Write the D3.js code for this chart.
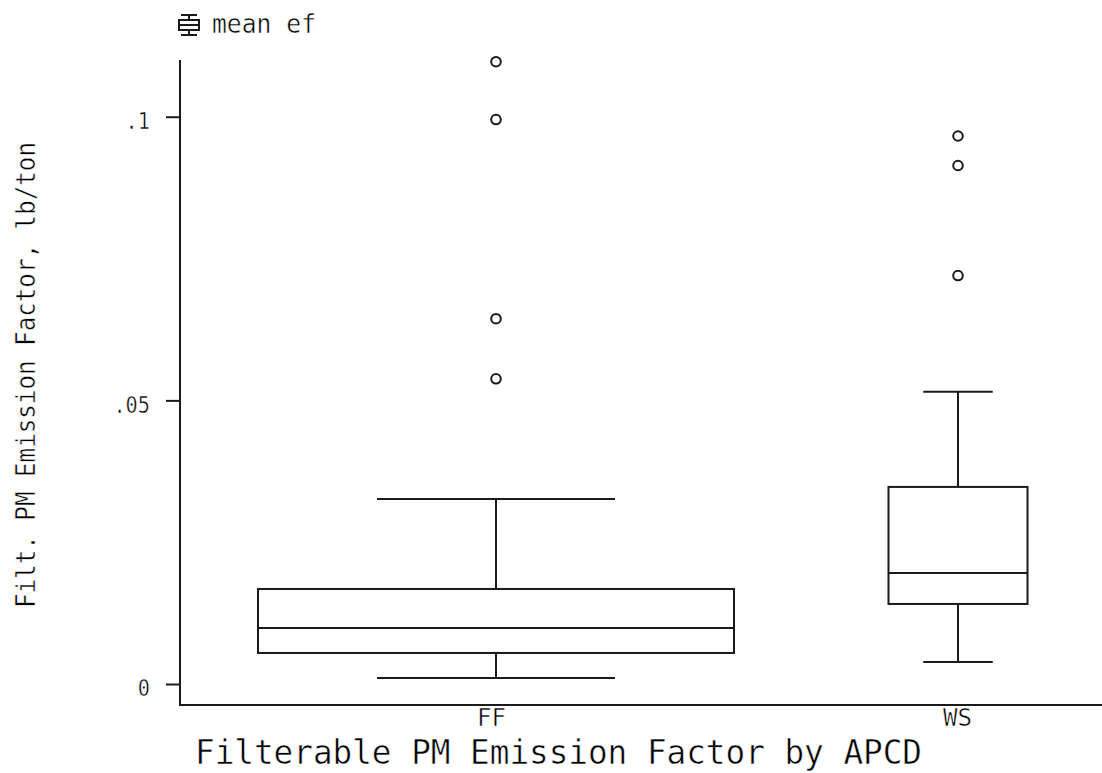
<!DOCTYPE html>
<html>
<head>
<meta charset="utf-8">
<script src="https://cdn.jsdelivr.net/npm/d3@7"></script>
<style>
  html, body { margin: 0; padding: 0; background: #fff; }
  svg { display: block; }
  text { font-family: "DejaVu Sans Mono", "Liberation Mono", monospace; fill: #000;
         stroke: #fff; stroke-width: 0.5px; paint-order: fill; }
</style>
</head>
<body>
<svg id="chart" width="1102" height="773"></svg>
<script>
// ---- data ----
const categories = ["FF", "WS"];
const lowerWhisker = [0.00106, 0.00388];
const q1Values     = [0.00547, 0.01411];
const medians      = [0.00988, 0.01958];
const q3Values     = [0.01675, 0.03474];
const upperWhisker = [0.03263, 0.05150];
const outliersFF   = [0.0538, 0.0644, 0.0995, 0.1097];
const outliersWS   = [0.0720, 0.0914, 0.0966];
const tickValues   = [0, 0.05, 0.1];
const tickLabels   = ["0", ".05", ".1"];
const legendLabel  = "mean ef";
const yTitle = "Filt. PM Emission Factor, lb/ton";
const xTitle = "Filterable PM Emission Factor by APCD";

// ---- layout ----
const boxWidths = [476, 139];
const plotLeft = 180, plotRight = 1102, plotTop = 60, plotBottom = 705;
const ink = "#1a1a1a";
const sw = 2;

const svg = d3.select("#chart");
const y = d3.scaleLinear().domain([0, 0.11]).range([684, 60]);
const x = d3.scalePoint().domain(categories).range([496, 958]);

const outliers = [outliersFF, outliersWS];
const stats = categories.map((c, i) => ({
  cat: c, lo: lowerWhisker[i], q1: q1Values[i], med: medians[i],
  q3: q3Values[i], hi: upperWhisker[i], w: boxWidths[i], out: outliers[i]
}));

// axes lines
svg.append("line").attr("x1", plotLeft).attr("x2", plotLeft)
  .attr("y1", plotTop).attr("y2", plotBottom + 1)
  .attr("stroke", ink).attr("stroke-width", sw);
svg.append("line").attr("x1", plotLeft - 1).attr("x2", plotRight)
  .attr("y1", plotBottom).attr("y2", plotBottom)
  .attr("stroke", ink).attr("stroke-width", sw);

// y axis ticks
const yAxis = d3.axisLeft(y).tickValues(tickValues).tickSize(14).tickSizeOuter(0)
  .tickPadding(16).tickFormat((d, i) => tickLabels[i]);
const gy = svg.append("g").attr("transform", `translate(${plotLeft},0)`).call(yAxis);
gy.select(".domain").remove();
gy.selectAll(".tick line").attr("stroke", ink).attr("stroke-width", sw);
gy.selectAll(".tick text")
  .attr("font-size", 23).attr("dy", "0.38em").attr("y", 3)
  .attr("fill", "#000")
  .style("font-family", '"DejaVu Sans Mono", monospace')
  .each(function(d, i) {
    const t = tickLabels[i];
    d3.select(this).attr("textLength", t.length * 12.2).attr("lengthAdjust", "spacingAndGlyphs");
  });

// x axis labels
const xAxis = d3.axisBottom(x).tickSize(0).tickPadding(0);
const gx = svg.append("g").attr("transform", `translate(0,${plotBottom})`).call(xAxis);
gx.select(".domain").remove();
gx.selectAll(".tick text")
  .attr("font-size", 25).attr("y", 21).attr("dy", 0).attr("x", (d) => d === "FF" ? -5 : -1)
  .attr("fill", "#000")
  .style("font-family", '"DejaVu Sans Mono", monospace')
  .attr("textLength", 29).attr("lengthAdjust", "spacingAndGlyphs");

// boxes
const g = svg.append("g").attr("fill", "none").attr("stroke", ink).attr("stroke-width", sw);
const bx = g.selectAll("g.box").data(stats).join("g").attr("class", "box");
// whiskers
bx.append("line").attr("x1", d => x(d.cat)).attr("x2", d => x(d.cat))
  .attr("y1", d => y(d.q3)).attr("y2", d => y(d.hi));
bx.append("line").attr("x1", d => x(d.cat)).attr("x2", d => x(d.cat))
  .attr("y1", d => y(d.q1)).attr("y2", d => y(d.lo));
// caps
bx.append("line").attr("x1", d => x(d.cat) - d.w / 4).attr("x2", d => x(d.cat) + d.w / 4)
  .attr("y1", d => y(d.hi)).attr("y2", d => y(d.hi));
bx.append("line").attr("x1", d => x(d.cat) - d.w / 4).attr("x2", d => x(d.cat) + d.w / 4)
  .attr("y1", d => y(d.lo)).attr("y2", d => y(d.lo));
// box
bx.append("rect").attr("x", d => x(d.cat) - d.w / 2).attr("width", d => d.w)
  .attr("y", d => y(d.q3)).attr("height", d => y(d.q1) - y(d.q3));
// median
bx.append("line").attr("x1", d => x(d.cat) - d.w / 2).attr("x2", d => x(d.cat) + d.w / 2)
  .attr("y1", d => y(d.med)).attr("y2", d => y(d.med));
// outliers
bx.selectAll("circle").data(d => d.out.map(v => ({ cat: d.cat, v }))).join("circle")
  .attr("cx", d => x(d.cat)).attr("cy", d => y(d.v)).attr("r", 4.8)
  .attr("stroke-width", 2);

// legend
const lg = svg.append("g").attr("transform", "translate(189,0)")
  .attr("fill", "none").attr("stroke", ink).attr("stroke-width", 2);
lg.append("line").attr("x1", -8).attr("x2", 8).attr("y1", 15).attr("y2", 15);
lg.append("line").attr("x1", 0).attr("x2", 0).attr("y1", 15).attr("y2", 20);
lg.append("rect").attr("x", -10).attr("y", 20).attr("width", 20).attr("height", 10);
lg.append("line").attr("x1", -10).attr("x2", 10).attr("y1", 25).attr("y2", 25);
lg.append("line").attr("x1", 0).attr("x2", 0).attr("y1", 30).attr("y2", 35);
lg.append("line").attr("x1", -8).attr("x2", 8).attr("y1", 35).attr("y2", 35);
svg.append("text").attr("x", 212).attr("y", 33).attr("font-size", 27)
  .attr("textLength", 104).attr("lengthAdjust", "spacingAndGlyphs")
  .text(legendLabel);

// y title
svg.append("text").attr("transform", "translate(35,375) rotate(-90)")
  .attr("text-anchor", "middle").attr("font-size", 27)
  .attr("textLength", 466).attr("lengthAdjust", "spacingAndGlyphs")
  .text(yTitle);

// x title
svg.append("text").attr("x", 195).attr("y", 764).attr("font-size", 33)
  .attr("textLength", 727).attr("lengthAdjust", "spacingAndGlyphs")
  .text(xTitle);
</script>
</body>
</html>
